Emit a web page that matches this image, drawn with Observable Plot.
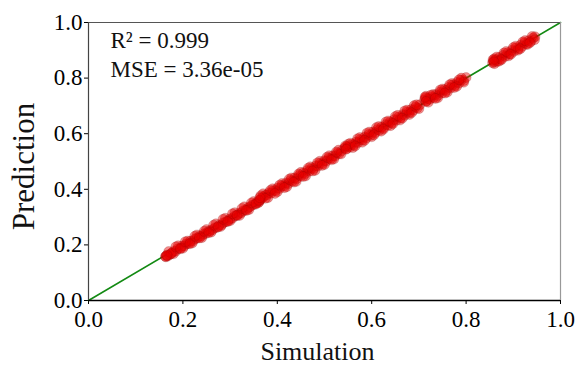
<!DOCTYPE html>
<html>
<head>
<meta charset="utf-8">
<script src="https://cdn.jsdelivr.net/npm/d3@7"></script>
<script src="https://cdn.jsdelivr.net/npm/@observablehq/plot@0.6"></script>
<style>
  html, body { margin: 0; padding: 0; background: #fff; }
  #chart svg { font-family: "Liberation Serif", "DejaVu Serif", serif; }
</style>
</head>
<body>
<div id="chart"></div>
<script>
const simulation = [
  0.163,0.165,0.168,0.172,0.176,0.180,0.185,0.189,0.194,0.198,0.203,0.207,0.212,0.216,0.221,0.226,0.230,0.235,0.240,0.244,0.249,0.254,0.258,0.263,0.268,0.272,0.277,0.282,0.286,0.291,0.296,0.300,0.305,0.310,0.314,0.319,0.324,0.328,0.333,0.338,0.342,0.347,0.352,0.356,
  0.360,0.362,0.364,0.366,0.370,0.374,0.378,0.383,0.387,0.392,0.396,0.401,0.405,0.410,0.414,0.419,0.423,0.428,0.432,0.437,0.441,0.446,0.450,0.455,0.459,0.464,0.468,0.473,0.477,0.482,0.486,0.491,0.495,0.500,0.504,0.509,0.513,0.518,0.522,0.527,0.531,0.536,
  0.543,0.545,0.547,0.550,0.554,0.558,0.562,0.567,0.571,0.576,0.580,0.585,0.589,0.594,0.598,0.603,0.607,0.612,0.616,0.621,0.625,0.630,0.634,0.639,0.643,0.648,0.652,0.657,0.661,0.666,0.670,0.675,0.679,0.684,0.688,0.693,0.697,0.702,
  0.712,0.714,0.716,0.719,0.723,0.727,0.731,0.736,0.740,0.745,0.749,0.754,0.758,0.763,0.767,0.772,0.776,0.781,0.785,0.790,0.795,0.800,
  0.856,0.858,0.860,0.863,0.866,0.870,0.874,0.879,0.883,0.888,0.892,0.897,0.901,0.906,0.910,0.915,0.919,0.924,0.928,0.933,0.937,0.942,0.946,
  0.170,0.180,0.190,0.200,0.210,0.220,0.230,0.240,0.250,0.260,0.270,0.280,0.290,0.300,0.310,0.320,0.330,0.340,0.350,
  0.370,0.380,0.390,0.400,0.410,0.420,0.430,0.440,0.450,0.460,0.470,0.480,0.490,0.500,0.510,0.520,0.530,0.535,
  0.550,0.560,0.570,0.580,0.590,0.600,0.610,0.620,0.630,0.640,0.650,0.660,0.670,0.680,0.690,0.700,
  0.715,0.720,0.730,0.740,0.750,0.760,0.770,0.780,0.790,0.795,
  0.860,0.870,0.880,0.890,0.900,0.910,0.920,0.930,0.940,0.945,
  0.175,0.185,0.195,0.205,0.215,0.225,0.235,0.245,0.255,0.265,0.275,0.285,0.295,0.305,0.315,0.325,0.335,0.345,0.355,
  0.365,0.375,0.385,0.395,0.405,0.415,0.425,0.435,0.445,0.455,0.465,0.475,0.485,0.495,0.505,0.515,0.525,
  0.555,0.565,0.575,0.585,0.595,0.605,0.615,0.625,0.635,0.645,0.655,0.665,0.675,0.685,0.695,
  0.725,0.735,0.745,0.755,0.765,0.775,0.785,
  0.865,0.875,0.885,0.895,0.905,0.915,0.925,0.935,
  0.164,0.166,0.361,0.363,0.544,0.546,0.713,0.715,0.857,0.859
];
const prediction = [
  0.158,0.161,0.160,0.165,0.170,0.176,0.177,0.186,0.188,0.195,0.196,0.204,0.205,0.213,0.214,0.222,0.224,0.231,0.232,0.240,0.241,0.249,0.251,0.255,0.262,0.263,0.271,0.272,0.280,0.283,0.288,0.294,0.296,0.304,0.307,0.313,0.316,0.323,0.326,0.333,0.337,0.343,0.346,0.352,
  0.352,0.356,0.362,0.367,0.372,0.378,0.380,0.388,0.386,0.396,0.395,0.405,0.403,0.414,0.412,0.423,0.420,0.432,0.429,0.441,0.438,0.450,0.447,0.459,0.456,0.468,0.465,0.476,0.474,0.485,0.483,0.494,0.492,0.503,0.501,0.512,0.510,0.521,0.519,0.530,0.528,0.538,
  0.548,0.552,0.546,0.555,0.552,0.562,0.559,0.570,0.568,0.579,0.577,0.588,0.585,0.597,0.594,0.606,0.603,0.615,0.612,0.624,0.621,0.633,0.630,0.642,0.639,0.651,0.648,0.660,0.657,0.669,0.666,0.678,0.675,0.687,0.684,0.696,0.693,0.704,
  0.722,0.728,0.718,0.726,0.724,0.733,0.729,0.741,0.737,0.750,0.746,0.758,0.755,0.767,0.764,0.776,0.773,0.785,0.782,0.793,0.791,0.802,
  0.855,0.862,0.852,0.866,0.860,0.874,0.869,0.882,0.878,0.891,0.887,0.900,0.896,0.909,0.905,0.918,0.914,0.927,0.923,0.935,0.932,0.944,0.949,
  0.176,0.168,0.197,0.188,0.214,0.207,0.236,0.226,0.255,0.246,0.276,0.266,0.296,0.287,0.316,0.306,0.337,0.327,0.356,
  0.384,0.370,0.402,0.391,0.421,0.409,0.441,0.428,0.461,0.448,0.481,0.468,0.501,0.489,0.521,0.509,0.541,0.527,
  0.562,0.550,0.582,0.569,0.602,0.589,0.622,0.609,0.642,0.629,0.662,0.649,0.682,0.669,0.701,0.690,
  0.735,0.713,0.741,0.729,0.761,0.749,0.781,0.770,0.800,0.785,
  0.870,0.861,0.890,0.880,0.910,0.900,0.930,0.921,0.950,0.938,
  0.169,0.193,0.186,0.211,0.204,0.231,0.225,0.249,0.244,0.271,0.265,0.292,0.284,0.312,0.306,0.331,0.324,0.351,0.347,
  0.377,0.368,0.396,0.385,0.415,0.406,0.436,0.426,0.455,0.446,0.476,0.466,0.495,0.486,0.515,0.506,0.534,
  0.566,0.556,0.586,0.576,0.606,0.596,0.626,0.616,0.646,0.636,0.666,0.656,0.685,0.676,0.704,
  0.738,0.727,0.757,0.746,0.776,0.766,0.794,
  0.876,0.866,0.896,0.886,0.915,0.906,0.935,0.927,
  0.157,0.163,0.360,0.370,0.556,0.544,0.732,0.716,0.866,0.858
];
const tickValues = [0, 0.2, 0.4, 0.6, 0.8, 1.0];
const tickLabels = ["0.0", "0.2", "0.4", "0.6", "0.8", "1.0"];
const annotation = ["R² = 0.999", "MSE = 3.36e-05"];
const diagonal = [0, 1];

const points = simulation.map((s, i) => ({sim: s, pred: prediction[i]}));

const chart = Plot.plot({
  width: 576,
  height: 367,
  marginLeft: 88,
  marginRight: 16,
  marginTop: 22,
  marginBottom: 67,
  x: {domain: [0, 1]},
  y: {domain: [0, 1]},
  marks: [
    Plot.axisX({ticks: tickValues, tickFormat: (d, i) => tickLabels[i], fontSize: 23, tickSize: 4, tickPadding: 6, label: null}),
    Plot.axisY({ticks: tickValues, tickFormat: (d, i) => tickLabels[i], fontSize: 23, tickSize: 4, tickPadding: 2, label: null}),
    Plot.line(diagonal, {x: d => d, y: d => d, stroke: "#138a13", strokeWidth: 1.6}),
    Plot.dot(points, {x: "sim", y: "pred", r: 5, fill: "#e80000", fillOpacity: 0.45, stroke: "#700000", strokeOpacity: 0.18, strokeWidth: 1}),
    Plot.ruleY([1], {stroke: "#555", strokeWidth: 1.2}),
    Plot.ruleX([1], {stroke: "#999", strokeWidth: 1.2}),
    Plot.ruleY([0], {stroke: "#000", strokeWidth: 1.4}),
    Plot.ruleX([0], {stroke: "#444", strokeWidth: 1.2}),
    Plot.text([annotation.join("\n")], {frameAnchor: "top-left", dx: 22, dy: 5, textAnchor: "start", lineAnchor: "top", fontSize: 23, lineHeight: 1.25, fill: "#111"}),
    Plot.text(["Simulation"], {frameAnchor: "bottom", dx: -7, dy: 51, textAnchor: "middle", lineAnchor: "middle", fontSize: 26, fill: "#111"}),
    Plot.text(["Prediction"], {frameAnchor: "left", dx: -64, dy: 5, textAnchor: "middle", lineAnchor: "middle", rotate: -90, fontSize: 31, fill: "#111"})
  ]
});
document.getElementById("chart").appendChild(chart);
</script>
</body>
</html>
